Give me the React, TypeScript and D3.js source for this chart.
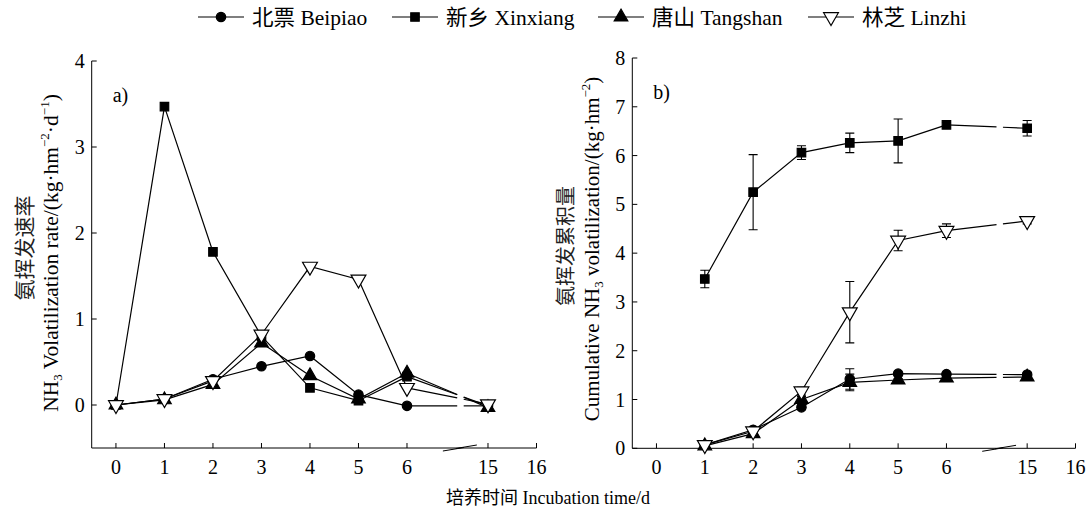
import React, { useEffect, useRef } from 'react';
import * as d3 from 'd3';

// incubation days (x) and tick labels
const days = [0, 1, 2, 3, 4, 5, 6, 15];
const cumDays = [1, 2, 3, 4, 5, 6, 15];
const xTicks = [0, 1, 2, 3, 4, 5, 6, 15, 16];

// a) NH3 volatilization rate
const rateBeipiao = [0, 0.07, 0.30, 0.45, 0.57, 0.12, -0.01, -0.01];
const rateXinxiang = [0, 3.47, 1.78, 0.80, 0.20, 0.05, 0.33, -0.01];
const rateTangshan = [0, 0.06, 0.24, 0.72, 0.34, 0.07, 0.37, -0.03];
const rateLinzhi = [0, 0.07, 0.28, 0.82, 1.61, 1.46, 0.20, 0.01];

// b) cumulative NH3 volatilization and error bars
const cumBeipiao = [0.07, 0.38, 0.84, 1.42, 1.53, 1.52, 1.51];
const cumXinxiang = [3.47, 5.25, 6.06, 6.26, 6.30, 6.63, 6.56];
const cumTangshan = [0.05, 0.30, 1.00, 1.35, 1.40, 1.44, 1.46];
const cumLinzhi = [0.07, 0.35, 1.17, 2.79, 4.26, 4.46, 4.66];
const errBeipiao = [0.02, 0.04, 0.05, 0.21, 0.03, 0.03, 0.03];
const errXinxiang = [0.18, 0.77, 0.14, 0.20, 0.45, 0.05, 0.16];
const errTangshan = [0.02, 0.04, 0.06, 0.17, 0.03, 0.03, 0.03];
const errLinzhi = [0.03, 0.05, 0.08, 0.63, 0.21, 0.14, 0.06];

const seriesNames = ['北票 Beipiao', '新乡 Xinxiang', '唐山 Tangshan', '林芝 Linzhi'];
const FONT = "'Liberation Serif', 'Times New Roman', 'Noto Sans CJK SC', serif";

const markerPath = (i) => {
    const types = [d3.symbolCircle, d3.symbolSquare, d3.symbolTriangle, d3.symbolTriangle];
    const sizes = [70, 72, 80, 95];
    return d3.symbol().type(types[i]).size(sizes[i])();
};
const markerFill = (i) => (i === 3 ? '#fff' : '#000');
const markerRotate = (i) => (i === 3 ? 'rotate(180)' : '');

const App = () => {
    const svgRef = useRef();

    useEffect(() => {
        const svg = d3.select(svgRef.current);
        svg.selectAll('*').remove();

        const drawPanel = (cfg) => {
            const u = (cfg.x1 - cfg.x0) / 9.17;
            const x = d3.scaleLinear()
                .domain([-0.5, 6, 15, 16])
                .range([cfg.x0, cfg.x0 + 6.5 * u, cfg.x0 + 8.17 * u, cfg.x1]);
            const y = d3.scaleLinear().domain(cfg.yDomain).range([cfg.yBot, cfg.yTop]);

            const g = svg.append('g').style('font-family', FONT);

            // axes
            g.append('line').attr('x1', cfg.x0).attr('x2', cfg.x0)
                .attr('y1', cfg.yTop).attr('y2', cfg.yBot).attr('stroke', '#000');
            g.append('line').attr('x1', cfg.x0).attr('x2', cfg.x1)
                .attr('y1', cfg.yBot).attr('y2', cfg.yBot).attr('stroke', '#000');

            xTicks.forEach(t => {
                g.append('line').attr('x1', x(t)).attr('x2', x(t))
                    .attr('y1', cfg.yBot).attr('y2', cfg.yBot - 5).attr('stroke', '#000');
                g.append('text').attr('x', x(t)).attr('y', cfg.yBot + 26)
                    .attr('text-anchor', 'middle').style('font-size', '20px').text(t);
            });
            cfg.yTicks.forEach(t => {
                g.append('line').attr('x1', cfg.x0).attr('x2', cfg.x0 + 5)
                    .attr('y1', y(t)).attr('y2', y(t)).attr('stroke', '#000');
                g.append('text').attr('x', cfg.x0 - 7).attr('y', y(t)).attr('dy', '0.35em')
                    .attr('text-anchor', 'end').style('font-size', '20px').text(t);
            });

            // axis break mark
            const bx0 = cfg.x0 + 7.24 * u, bx1 = cfg.x0 + 7.94 * u, bw = bx1 - bx0;
            g.append('path')
                .attr('d', `M${bx0},${cfg.yBot + 3}L${bx0 + 0.62 * bw},${cfg.yBot - 0.5}M${bx0 + 0.38 * bw},${cfg.yBot + 0.5}L${bx1},${cfg.yBot - 3}`)
                .attr('stroke', '#000').attr('fill', 'none');

            // panel label
            g.append('text').attr('x', cfg.x0 + 21).attr('y', cfg.yTop + 41)
                .style('font-size', '20px').text(cfg.label);

            const line = d3.line().x(d => x(d[0])).y(d => y(d[1]));

            cfg.series.forEach((vals) => {
                const pts = cfg.xs.map((d, i) => [d, vals[i]]);
                const head = pts.filter(p => p[0] <= 6);
                g.append('path').attr('d', line(head))
                    .attr('fill', 'none').attr('stroke', '#000').attr('stroke-width', 1.2);
                // broken segment from day 6 to day 15
                const ax = x(6), ay = y(vals[cfg.xs.indexOf(6)]);
                const bx = x(15), by = y(vals[cfg.xs.indexOf(15)]);
                const ix = d3.interpolateNumber(ax, bx), iy = d3.interpolateNumber(ay, by);
                [[0, 0.62], [0.70, 1]].forEach(([t0, t1]) => {
                    g.append('line').attr('x1', ix(t0)).attr('y1', iy(t0))
                        .attr('x2', ix(t1)).attr('y2', iy(t1))
                        .attr('stroke', '#000').attr('stroke-width', 1.2);
                });
            });

            if (cfg.errors) {
                cfg.errors.forEach((errs, si) => {
                    cfg.xs.forEach((d, i) => {
                        const v = cfg.series[si][i], e = errs[i];
                        const cx = x(d);
                        g.append('path')
                            .attr('d', `M${cx},${y(v - e)}V${y(v + e)}M${cx - 4.5},${y(v + e)}H${cx + 4.5}M${cx - 4.5},${y(v - e)}H${cx + 4.5}`)
                            .attr('stroke', '#000').attr('stroke-width', 1.1).attr('fill', 'none');
                    });
                });
            }

            cfg.series.forEach((vals, si) => {
                g.selectAll(null)
                    .data(cfg.xs.map((d, i) => [d, vals[i]]))
                    .enter()
                    .append('path')
                    .attr('d', markerPath(si))
                    .attr('transform', d => `translate(${x(d[0])},${y(d[1])}) ${markerRotate(si)}`)
                    .attr('fill', markerFill(si))
                    .attr('stroke', '#000')
                    .attr('stroke-width', 1.2);
            });
        };

        drawPanel({
            x0: 91.7, x1: 536.5, yTop: 61, yBot: 448,
            yDomain: [-0.5, 4], yTicks: [0, 1, 2, 3, 4], label: 'a)',
            xs: days, series: [rateBeipiao, rateXinxiang, rateTangshan, rateLinzhi]
        });
        drawPanel({
            x0: 632.3, x1: 1075.5, yTop: 58, yBot: 448.3,
            yDomain: [0, 8], yTicks: d3.range(0, 9), label: 'b)',
            xs: cumDays, series: [cumBeipiao, cumXinxiang, cumTangshan, cumLinzhi],
            errors: [errBeipiao, errXinxiang, errTangshan, errLinzhi]
        });

        // y axis titles
        const yTitle = (cx, cy, size, parts, fill) => {
            const t = svg.append('text')
                .attr('transform', `translate(${cx},${cy}) rotate(-90)`)
                .attr('text-anchor', 'middle')
                .style('font-family', FONT).style('font-size', `${size}px`)
                .attr('fill', fill);
            parts.forEach(p => {
                const s = t.append('tspan').text(p.t);
                if (p.sub) s.style('font-size', '13px').attr('dy', 4);
                if (p.sup) s.style('font-size', '13px').attr('dy', -9);
                if (p.back) s.attr('dy', p.back);
            });
        };
        yTitle(32, 248, 21, [{ t: '氨挥发速率' }], '#222');
        yTitle(58, 253, 21.5, [
            { t: 'NH' }, { t: '3', sub: true }, { t: ' Volatilization rate/(kg·hm', back: -4 },
            { t: '−2', sup: true }, { t: '·d', back: 9 }, { t: '−1', sup: true }, { t: ')', back: 9 }
        ], '#000');
        yTitle(573, 246, 20, [{ t: '氨挥发累积量' }], '#222');
        yTitle(599, 249, 21, [
            { t: 'Cumulative NH' }, { t: '3', sub: true }, { t: ' volatilization/(kg·hm', back: -4 },
            { t: '−2', sup: true }, { t: ')', back: 9 }
        ], '#000');

        // x axis title
        svg.append('text').attr('x', 548).attr('y', 504).attr('text-anchor', 'middle')
            .style('font-family', FONT).style('font-size', '18px')
            .text('培养时间 Incubation time/d');

        // legend
        const legendX = [198, 392, 598, 808];
        seriesNames.forEach((name, i) => {
            const lg = svg.append('g').attr('transform', `translate(${legendX[i]},17)`);
            lg.append('line').attr('x1', 0).attr('x2', 46).attr('y1', 0).attr('y2', 0)
                .attr('stroke', '#000').attr('stroke-width', 1.2);
            lg.append('path').attr('d', markerPath(i))
                .attr('transform', `translate(23,0) ${markerRotate(i)}`)
                .attr('fill', markerFill(i)).attr('stroke', '#000').attr('stroke-width', 1.2);
            lg.append('text').attr('x', 54).attr('y', 0).attr('dy', '0.35em')
                .style('font-family', FONT).style('font-size', '21.5px').text(name);
        });
    }, []);

    return (
        <div style={{ position: 'absolute', left: 0, top: 0 }}>
            <svg ref={svgRef} width={1091} height={512} style={{ display: 'block', background: '#fff' }}></svg>
        </div>
    );
};

export default App;
